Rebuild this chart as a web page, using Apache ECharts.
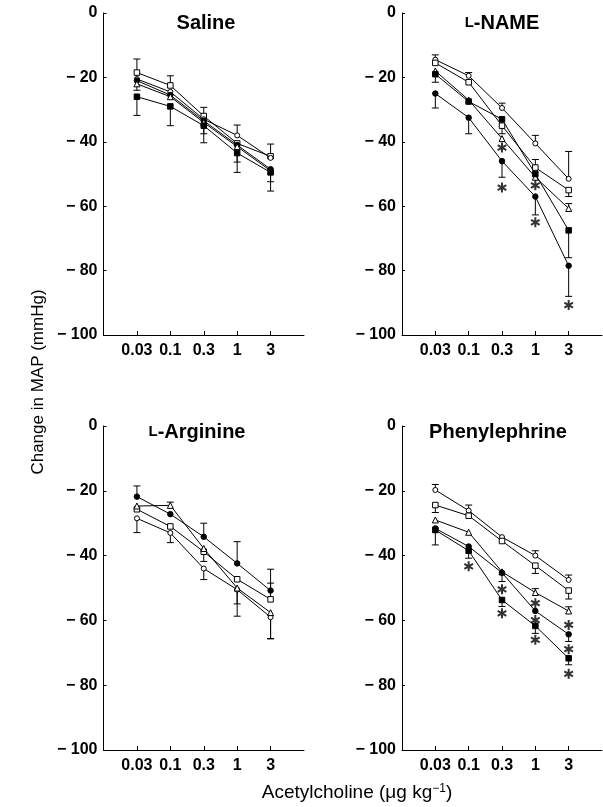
<!DOCTYPE html>
<html>
<head>
<meta charset="utf-8">
<script src="https://cdn.jsdelivr.net/npm/echarts@6/dist/echarts.min.js"></script>
<style>html,body{margin:0;padding:0;background:#fff}#c{width:603px;height:807px}</style>
</head>
<body>
<div id="c"></div>
<script>
// ---------- DATA ----------
const doses = ['0.03', '0.1', '0.3', '1', '3'];
const yTicks = [0, -20, -40, -60, -80, -100];

// Saline
const salineOpenSquare   = [-18.5, -22.5, -32, -40.5, -44.5];
const salineOpenCircle   = [-20.5, -24.5, -33, -38, -45];
const salineFilledCircle = [-21, -25.5, -33.5, -41, -48.5];
const salineTriangle     = [-22, -26, -34, -41.5, -49];
const salineFilledSquare = [-26, -29, -35, -43.5, -49.5];
const salineOpenSquareUp   = [4.2, 3, 2.7, 0, 0];
const salineOpenCircleUp   = [0, 0, 0, 3.2, 4.3];
const salineFilledSquareDn = [5.8, 6, 5.3, 6, 5.8];
const salineTriangleDn     = [2, 0, 3.5, 4.8, 3.4];

// L-NAME
const lnameOpenCircle   = [-14.5, -19.5, -29.5, -40.5, -51.5];
const lnameOpenSquare   = [-15.5, -21.5, -35, -48, -55];
const lnameTriangle     = [-18, -27, -39, -51, -60.7];
const lnameFilledSquare = [-19, -27.5, -33, -50, -67.5];
const lnameFilledCircle = [-25, -32.5, -46, -57, -78.5];
const lnameOpenCircleUp   = [1.5, 1, 1.5, 2.5, 8.5];
const lnameOpenSquareUp   = [0, 0, 0, 2.5, 0];
const lnameOpenSquareDn   = [0, 0, 0, 0, 2];
const lnameTriangleUp     = [0, 0, 0, 0, 1.5];
const lnameFilledSquareDn = [2.5, 0, 4.5, 0, 8.5];
const lnameFilledCircleDn = [4.5, 5, 5, 5.7, 9.5];
const lnameStars = [[3, -41.8], [3, -54.2], [4, -53.5], [4, -65], [5, -90.7]];

// L-Arginine
const largOpenCircle   = [-28.5, -33, -44, -50.5, -59];
const largOpenSquare   = [-25.7, -31, -38.8, -47.3, -53.5];
const largTriangle     = [-24.7, -24.5, -37.8, -50, -57.6];
const largFilledCircle = [-21.8, -27.2, -34.2, -42.4, -50.8];
const largOpenCircleDn   = [4.4, 3, 3.4, 8.2, 6.7];
const largOpenSquareUp   = [0, 0, 0, 0, 5];
const largOpenSquareDn   = [0, 0, 3, 0, 0];
const largTriangleUp     = [0, 1, 0, 0, 0];
const largTriangleDn     = [0, 0, 0, 4.9, 8];
const largFilledCircleUp = [3.3, 0, 4.2, 6.7, 6.6];

// Phenylephrine
const pheOpenCircle   = [-19.75, -26.1, -34.3, -40, -47.5];
const pheOpenSquare   = [-24.4, -27.7, -35.5, -43.1, -50.8];
const pheTriangle     = [-29, -32.8, -45, -51.4, -57.1];
const pheFilledCircle = [-31.6, -37.2, -45.3, -57.1, -64.3];
const pheFilledSquare = [-32.1, -38.5, -53.7, -61.7, -71.7];
const pheOpenCircleUp   = [1.7, 1.7, 0, 1.5, 1.5];
const pheOpenSquareDn   = [2.3, 0, 0, 2.4, 2.6];
const pheTriangleUp     = [0, 0, 0, 1.2, 1.3];
const pheFilledCircleDn = [0, 0, 2.7, 0, 2.2];
const pheFilledSquareDn = [4.6, 2.3, 2, 2.3, 2];
const pheStars = [[2, -43.3], [3, -50.4], [3, -57.8], [4, -54.7], [4, -59.9], [4, -66], [5, -61.4], [5, -68.9], [5, -76.5]];

// ---------- BUILD ----------
const FONT = '"Liberation Sans", Arial, Helvetica, sans-serif';
const Z = (arr) => arr.map(() => 0);
const marker = {
  oc: { symbol: 'circle', size: 5, fill: '#fff' },
  fc: { symbol: 'circle', size: 5.5, fill: '#000' },
  os: { symbol: 'rect', size: 5.5, fill: '#fff' },
  fs: { symbol: 'rect', size: 5.5, fill: '#000' },
  ot: { symbol: 'triangle', size: 6, fill: '#fff' }
};
const panels = [
  { title: 'Saline', tx: 206, ty: 23, grid: { left: 103.5, top: 13, width: 200.5, height: 322 },
    series: [
      { m: 'os', v: salineOpenSquare, up: salineOpenSquareUp, dn: Z(doses) },
      { m: 'oc', v: salineOpenCircle, up: salineOpenCircleUp, dn: Z(doses) },
      { m: 'fc', v: salineFilledCircle, up: Z(doses), dn: Z(doses) },
      { m: 'ot', v: salineTriangle, up: Z(doses), dn: salineTriangleDn },
      { m: 'fs', v: salineFilledSquare, up: Z(doses), dn: salineFilledSquareDn }
    ], stars: [] },
  { title: '{sc|L}-NAME', tx: 502, ty: 23, grid: { left: 402, top: 13, width: 200, height: 322 },
    series: [
      { m: 'oc', v: lnameOpenCircle, up: lnameOpenCircleUp, dn: Z(doses) },
      { m: 'os', v: lnameOpenSquare, up: lnameOpenSquareUp, dn: lnameOpenSquareDn },
      { m: 'ot', v: lnameTriangle, up: lnameTriangleUp, dn: Z(doses) },
      { m: 'fs', v: lnameFilledSquare, up: Z(doses), dn: lnameFilledSquareDn },
      { m: 'fc', v: lnameFilledCircle, up: Z(doses), dn: lnameFilledCircleDn }
    ], stars: lnameStars },
  { title: '{sc|L}-Arginine', tx: 197, ty: 432, grid: { left: 103.5, top: 426, width: 200.5, height: 324 },
    series: [
      { m: 'oc', v: largOpenCircle, up: Z(doses), dn: largOpenCircleDn },
      { m: 'os', v: largOpenSquare, up: largOpenSquareUp, dn: largOpenSquareDn },
      { m: 'ot', v: largTriangle, up: largTriangleUp, dn: largTriangleDn },
      { m: 'fc', v: largFilledCircle, up: largFilledCircleUp, dn: Z(doses) }
    ], stars: [] },
  { title: 'Phenylephrine', tx: 498, ty: 432, grid: { left: 402, top: 426, width: 200, height: 324 },
    series: [
      { m: 'oc', v: pheOpenCircle, up: pheOpenCircleUp, dn: Z(doses) },
      { m: 'os', v: pheOpenSquare, up: Z(doses), dn: pheOpenSquareDn },
      { m: 'ot', v: pheTriangle, up: pheTriangleUp, dn: Z(doses) },
      { m: 'fc', v: pheFilledCircle, up: Z(doses), dn: pheFilledCircleDn },
      { m: 'fs', v: pheFilledSquare, up: Z(doses), dn: pheFilledSquareDn }
    ], stars: pheStars }
];

const grids = [], xAxes = [], yAxes = [], series = [], graphics = [];
const tickPos = doses.map((d, i) => i + 1);
const STAR = 'path://M5,0L5,10M0.67,2.5L9.33,7.5M0.67,7.5L9.33,2.5';

panels.forEach((p, gi) => {
  grids.push(p.grid);
  xAxes.push({
    type: 'value', gridIndex: gi, min: 0, max: 6, interval: 1,
    axisLine: { show: true, onZero: false, lineStyle: { color: '#000', width: 1 } },
    axisTick: { show: true, inside: true, length: 4, customValues: tickPos, lineStyle: { color: '#000', width: 1 } },
    axisLabel: { show: true, customValues: tickPos, formatter: (v) => doses[Math.round(v) - 1] || '',
      color: '#000', fontSize: 16, fontWeight: 'bold', fontFamily: FONT, margin: 8 },
    splitLine: { show: false }
  });
  yAxes.push({
    type: 'value', gridIndex: gi, min: -100, max: 0, interval: 20,
    axisLine: { show: true, onZero: false, lineStyle: { color: '#000', width: 1 } },
    axisTick: { show: true, inside: true, length: 3, customValues: yTicks, lineStyle: { color: '#000', width: 1 } },
    axisLabel: { color: '#000', fontSize: 16, fontWeight: 'bold', fontFamily: FONT, margin: 6,
      formatter: (v) => v < 0 ? '\u2212 ' + Math.abs(v) : String(v) },
    splitLine: { show: false }
  });
  // error bars
  const errData = [];
  p.series.forEach((s) => {
    s.v.forEach((val, i) => {
      if (s.up[i] > 0) errData.push([i + 1, val, val + s.up[i]]);
      if (s.dn[i] > 0) errData.push([i + 1, val, val - s.dn[i]]);
    });
  });
  series.push({
    type: 'custom', xAxisIndex: gi, yAxisIndex: gi, z: 1, silent: true,
    data: errData,
    renderItem: (params, api) => {
      const a = api.coord([api.value(0), api.value(1)]);
      const b = api.coord([api.value(0), api.value(2)]);
      const st = { stroke: '#000', lineWidth: 1 };
      return { type: 'group', children: [
        { type: 'line', shape: { x1: a[0], y1: a[1], x2: b[0], y2: b[1] }, style: st },
        { type: 'line', shape: { x1: b[0] - 3.5, y1: b[1], x2: b[0] + 3.5, y2: b[1] }, style: st }
      ] };
    }
  });
  p.series.forEach((s) => {
    const mk = marker[s.m];
    series.push({
      type: 'line', xAxisIndex: gi, yAxisIndex: gi, z: 3,
      data: s.v.map((val, i) => [i + 1, val]),
      symbol: mk.symbol, symbolSize: mk.size, showSymbol: true,
      lineStyle: { color: '#000', width: 1 },
      itemStyle: { color: mk.fill, borderColor: '#000', borderWidth: 1 },
      animation: false
    });
  });
  if (p.stars.length) {
    series.push({
      type: 'scatter', xAxisIndex: gi, yAxisIndex: gi, z: 4,
      data: p.stars, symbol: STAR, symbolSize: 10, symbolKeepAspect: true,
      itemStyle: { color: 'none', borderColor: '#000', borderWidth: 2 }
    });
  }
  graphics.push({
    type: 'text', x: p.tx, y: p.ty,
    style: { text: p.title, textAlign: 'center', textVerticalAlign: 'middle', fill: '#000',
      fontSize: 20, fontWeight: 'bold', fontFamily: FONT,
      rich: { sc: { fontSize: 15, fontWeight: 'bold', fontFamily: FONT, fill: '#000' } } }
  });
});

graphics.push({
  type: 'text', x: 38, y: 382, rotation: Math.PI / 2,
  style: { text: 'Change in MAP (mmHg)', textAlign: 'center', textVerticalAlign: 'middle', fill: '#000',
    fontSize: 17, fontFamily: FONT }
});
graphics.push({
  type: 'text', x: 357, y: 793,
  style: { text: 'Acetylcholine (\u03bcg kg{sup|\u22121})', textAlign: 'center', textVerticalAlign: 'middle', fill: '#000',
    fontSize: 19, fontFamily: FONT,
    rich: { sup: { fontSize: 12, fontFamily: FONT, fill: '#000', verticalAlign: 'top', padding: [0, 0, 8, 0] } } }
});

const chart = echarts.init(document.getElementById('c'), null, { renderer: 'canvas' });
chart.setOption({
  animation: false,
  backgroundColor: '#fff',
  grid: grids, xAxis: xAxes, yAxis: yAxes, series: series, graphic: graphics
});
</script>
</body>
</html>
